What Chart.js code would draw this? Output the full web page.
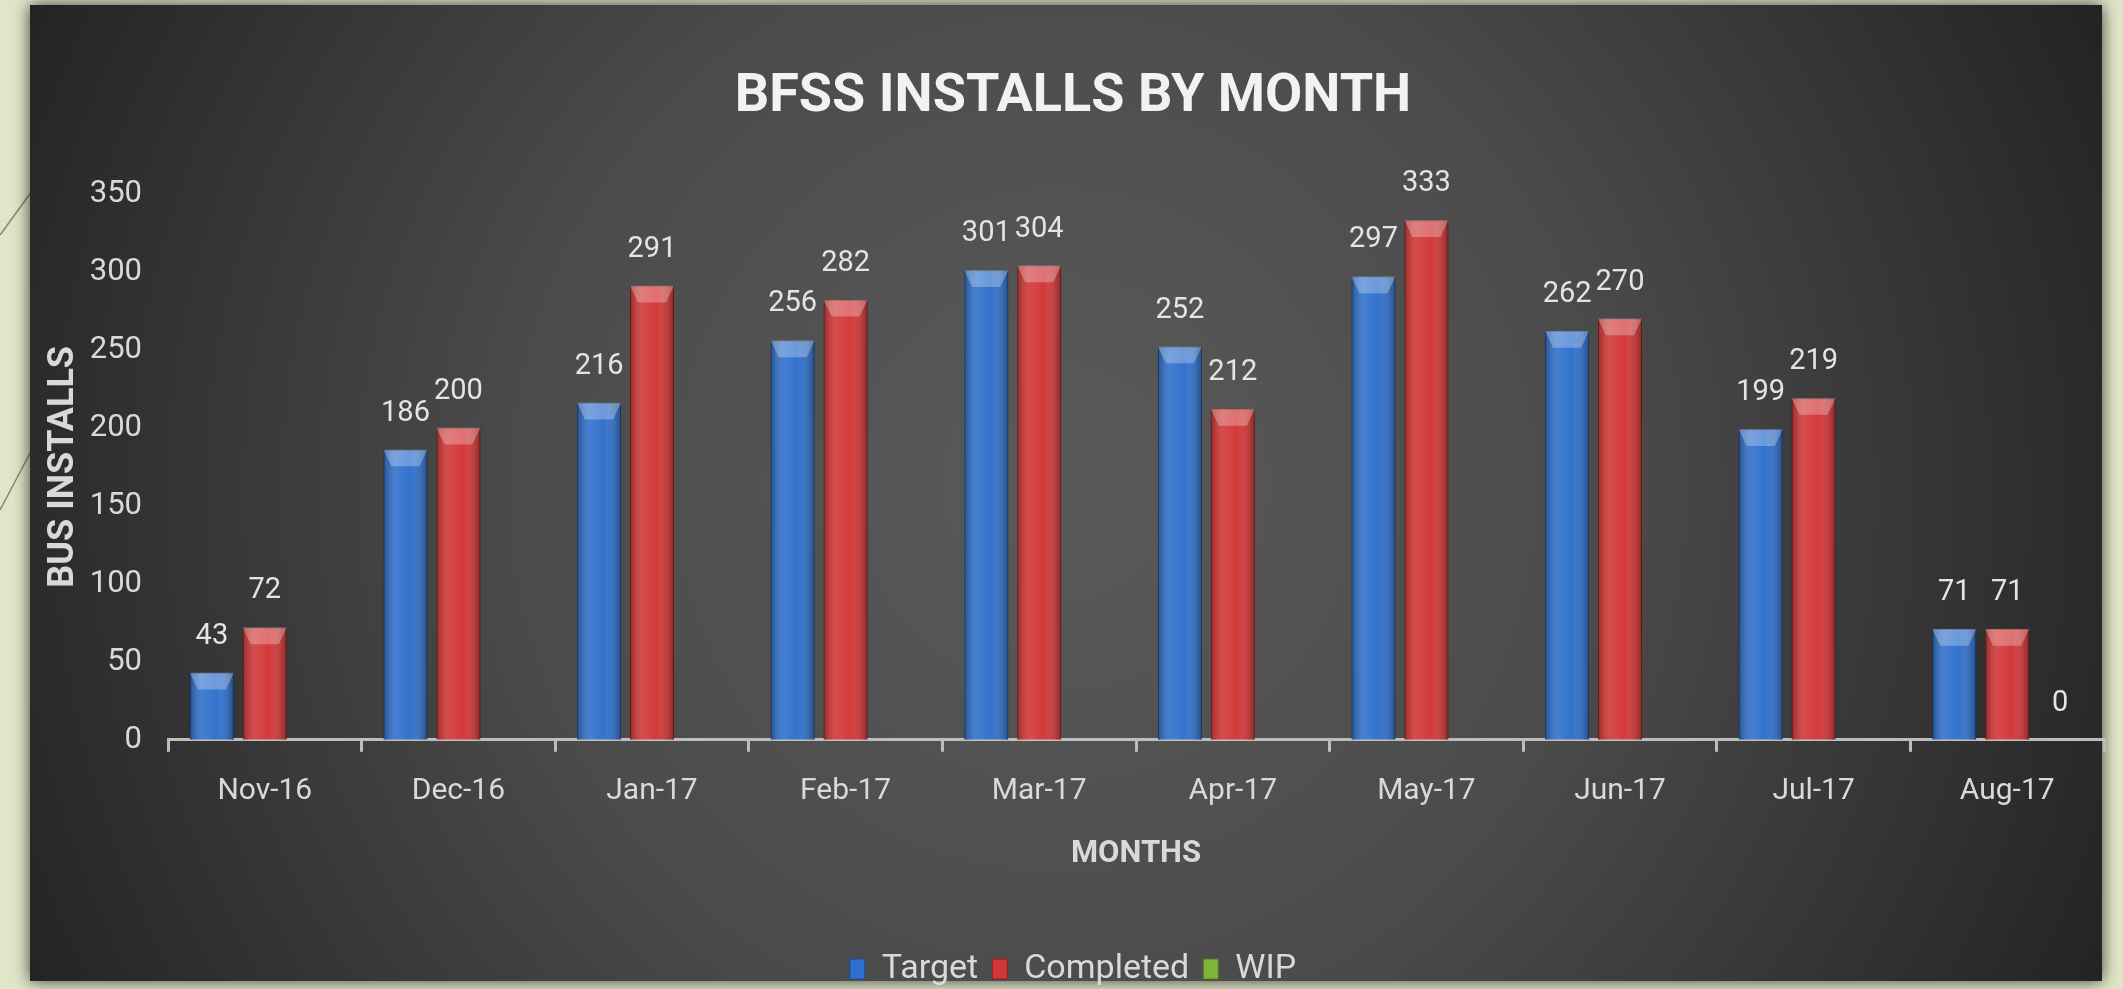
<!DOCTYPE html>
<html>
<head>
<meta charset="utf-8">
<title>BFSS Installs by Month</title>
<script src="https://cdn.jsdelivr.net/npm/chart.js@4.4.1/dist/chart.umd.min.js"></script>
<style>
  html, body { margin: 0; padding: 0; background: #e2e6c8; overflow: hidden; }
  #wrap { position: relative; width: 2123px; height: 989px; }
</style>
</head>
<body>
<div id="wrap"><canvas id="installsChart"></canvas></div>
<script>
const months = ['Nov-16', 'Dec-16', 'Jan-17', 'Feb-17', 'Mar-17', 'Apr-17', 'May-17', 'Jun-17', 'Jul-17', 'Aug-17'];
const targetValues = [43, 186, 216, 256, 301, 252, 297, 262, 199, 71];
const completedValues = [72, 200, 291, 282, 304, 212, 333, 270, 219, 71];
const wipValues = [null, null, null, null, null, null, null, null, null, 0];
const yMin = 0, yMax = 350, yStep = 50;

const FONT = "Roboto, 'Open Sans', sans-serif";
Chart.defaults.font.family = FONT;
Chart.defaults.color = '#d9d9d9';

// beige slide + dark gradient panel behind the chart
const panelBackground = {
    id: 'panelBackground',
    beforeDraw(chart) {
        const { ctx, width, height } = chart;
        ctx.save();
        ctx.fillStyle = '#e2e6c8';
        ctx.fillRect(0, 0, width, height);
        ctx.strokeStyle = '#8a846e';
        ctx.lineWidth = 1.5;
        ctx.beginPath();
        ctx.moveTo(0, 235); ctx.lineTo(40, 180);
        ctx.moveTo(0, 510); ctx.lineTo(45, 425);
        ctx.stroke();

        ctx.shadowColor = 'rgba(0,0,0,0.75)';
        ctx.shadowBlur = 16;
        const g = ctx.createRadialGradient(1060, 480, 40, 1060, 500, 1150);
        g.addColorStop(0, '#595959');
        g.addColorStop(0.45, '#4b4b4b');
        g.addColorStop(1, '#232323');
        ctx.fillStyle = g;
        ctx.fillRect(30, 5, 2072, 976);
        ctx.restore();
    }
};

// bevel shading on the bars and value labels above them
const barDecor = {
    id: 'barDecor',
    afterDatasetsDraw(chart) {
        const { ctx } = chart;
        ctx.save();
        chart.data.datasets.forEach((ds, i) => {
            const meta = chart.getDatasetMeta(i);
            meta.data.forEach((bar, j) => {
                const v = ds.data[j];
                if (v === null || v === undefined) return;
                const { x, y, base, width } = bar.getProps(['x', 'y', 'base', 'width'], true);
                const h = base - y;
                if (h > 2) {
                    const l = x - width / 2, r = x + width / 2;
                    const sg = ctx.createLinearGradient(l, 0, r, 0);
                    sg.addColorStop(0, 'rgba(0,0,0,0.28)');
                    sg.addColorStop(0.3, 'rgba(255,255,255,0.10)');
                    sg.addColorStop(0.6, 'rgba(255,255,255,0.02)');
                    sg.addColorStop(1, 'rgba(0,0,0,0.32)');
                    ctx.fillStyle = sg;
                    ctx.fillRect(l, y, width, h);
                    const d = Math.min(width * 0.38, h);
                    ctx.fillStyle = 'rgba(255,255,255,0.28)';
                    ctx.beginPath();
                    ctx.moveTo(l, y);
                    ctx.lineTo(r, y);
                    ctx.lineTo(r - width * 0.18, y + d);
                    ctx.lineTo(l + width * 0.18, y + d);
                    ctx.closePath();
                    ctx.fill();
                }
                ctx.fillStyle = '#e4e4e4';
                ctx.font = '29px ' + FONT;
                ctx.textAlign = 'center';
                ctx.textBaseline = 'alphabetic';
                ctx.fillText(String(v), x, y - 29);
            });
        });
        ctx.restore();
    }
};

new Chart(document.getElementById('installsChart'), {
    type: 'bar',
    data: {
        labels: months,
        datasets: [
            { label: 'Target', data: targetValues, backgroundColor: '#2f70cc', borderColor: '#1d4c92', borderWidth: 1 },
            { label: 'Completed', data: completedValues, backgroundColor: '#d23636', borderColor: '#8e2222', borderWidth: 1 },
            { label: 'WIP', data: wipValues, backgroundColor: '#7fb43c', borderColor: '#557a25', borderWidth: 1 }
        ]
    },
    options: {
        responsive: true,
        maintainAspectRatio: false,
        devicePixelRatio: 1,
        animation: false,
        layout: { padding: { left: 42, right: 19, top: 20, bottom: -7 } },
        datasets: { bar: { categoryPercentage: 0.82, barPercentage: 0.83 } },
        plugins: {
            title: {
                display: true,
                text: 'BFSS INSTALLS BY MONTH',
                color: '#f2f2f2',
                font: { size: 54, weight: 'bold' },
                padding: { top: 45, bottom: 64 }
            },
            legend: {
                position: 'bottom',
                labels: { color: '#d9d9d9', font: { size: 34 }, boxWidth: 15, boxHeight: 20, padding: 14 }
            },
            tooltip: { enabled: false }
        },
        scales: {
            x: {
                grid: { display: true, drawOnChartArea: false, drawTicks: true, tickLength: 12, color: '#bdbdbd', lineWidth: 3 },
                border: { display: true, color: '#bdbdbd', width: 3 },
                ticks: { color: '#d9d9d9', font: { size: 30 }, padding: 22 },
                title: { display: true, text: 'MONTHS', color: '#d9d9d9', font: { size: 31, weight: 'bold' }, padding: { top: 4, bottom: 65 } }
            },
            y: {
                min: yMin,
                max: yMax,
                grid: { display: false, drawTicks: false },
                border: { display: false },
                ticks: { stepSize: yStep, color: '#d9d9d9', font: { size: 31 }, padding: 26 },
                title: { display: true, text: 'BUS INSTALLS', color: '#d9d9d9', font: { size: 36, weight: 'bold' }, padding: { top: 0, bottom: 0 } },
                afterFit(scale) { scale.width = 126; }
            }
        }
    },
    plugins: [panelBackground, barDecor]
});
</script>
</body>
</html>
